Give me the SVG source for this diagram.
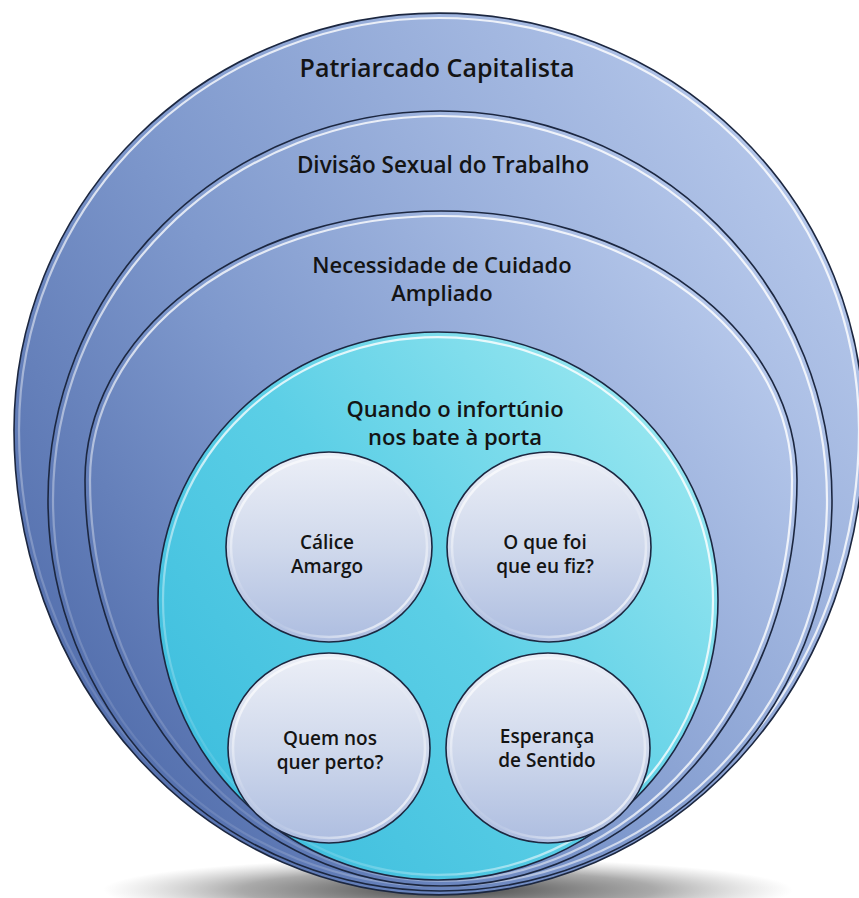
<svg xmlns="http://www.w3.org/2000/svg" width="859" height="898" viewBox="0 0 859 898">
<defs>
<linearGradient id="gBlue" x1="0" y1="0.85" x2="1" y2="0.15">
<stop offset="0" stop-color="#4b67a7"/>
<stop offset="0.45" stop-color="#7f99cd"/>
<stop offset="1" stop-color="#bccdee"/>
</linearGradient>
<linearGradient id="gCyan" x1="0" y1="0.9" x2="1" y2="0.1">
<stop offset="0" stop-color="#38bbdc"/>
<stop offset="0.5" stop-color="#5ccfe6"/>
<stop offset="1" stop-color="#a3ebf2"/>
</linearGradient>
<linearGradient id="gBall" x1="0" y1="0" x2="0" y2="1">
<stop offset="0" stop-color="#eceff7"/>
<stop offset="0.5" stop-color="#d0d9ec"/>
<stop offset="1" stop-color="#adbde0"/>
</linearGradient>
<linearGradient id="gHL" x1="1" y1="0" x2="0" y2="1">
<stop offset="0" stop-color="#ffffff" stop-opacity="0.85"/>
<stop offset="0.55" stop-color="#ffffff" stop-opacity="0.75"/>
<stop offset="0.9" stop-color="#ffffff" stop-opacity="0"/>
</linearGradient>
<linearGradient id="gHLb" x1="0" y1="0" x2="1" y2="1">
<stop offset="0" stop-color="#ffffff" stop-opacity="0.95"/>
<stop offset="0.4" stop-color="#ffffff" stop-opacity="0.1"/>
<stop offset="0.6" stop-color="#ffffff" stop-opacity="0.1"/>
<stop offset="1" stop-color="#ffffff" stop-opacity="0.95"/>
</linearGradient>
<radialGradient id="gShadow" cx="0.5" cy="0.5" r="0.5">
<stop offset="0" stop-color="#2e2e2e" stop-opacity="0.9"/>
<stop offset="0.6" stop-color="#555555" stop-opacity="0.5"/>
<stop offset="1" stop-color="#888888" stop-opacity="0"/>
</radialGradient>
</defs>
<style>
.band{fill:url(#gBlue);stroke:#1c2740;stroke-width:1.6}
.cyan{fill:url(#gCyan);stroke:#1c2740;stroke-width:1.6}
.ball{fill:url(#gBall);stroke:#1c2740;stroke-width:1.6}
.hl{fill:none;stroke:url(#gHL);stroke-width:2.2}
.hlb{fill:none;stroke:url(#gHLb);stroke-width:2.5}
text{font-family:"Open Sans","Liberation Sans",sans-serif;font-weight:600;fill:#141414;text-anchor:middle}
.t0{font-size:25px}
.t1{font-size:22.5px}
.t1b{font-size:22px}
.t2{font-size:22px}
.t3{font-size:19px}
</style>
<rect width="859" height="898" fill="#ffffff"/>
<ellipse cx="448" cy="890" rx="345" ry="32" fill="url(#gShadow)"/>
<g id="patriarcado">
<path class="band" d="M 14 430 A 425 417 0 0 1 864 430 A 425 465 0 0 1 14 430 Z"/>
<path class="hl" d="M 19 430 A 420 412 0 0 1 859 430 A 420 460 0 0 1 19 430 Z"/>
<text class="t0" x="437" y="77">Patriarcado Capitalista</text>
</g>
<g id="divisao">
<path class="band" d="M 48 500 A 392 389 0 0 1 832 500 A 392 391 0 0 1 48 500 Z"/>
<path class="hl" d="M 53 500 A 387 384 0 0 1 827 500 A 387 386 0 0 1 53 500 Z"/>
<text class="t1" x="443" y="173">Divisão Sexual do Trabalho</text>
</g>
<g id="necessidade">
<path class="band" d="M 85 480 A 356 269 0 0 1 797 480 A 356 406 0 0 1 85 480 Z"/>
<path class="hl" d="M 90 480 A 351 264 0 0 1 792 480 A 351 401 0 0 1 90 480 Z"/>
<text class="t1b" x="442" y="273">Necessidade de Cuidado</text>
<text class="t1b" x="442" y="301">Ampliado</text>
</g>
<g id="infortunio">
<path class="cyan" d="M 158 600 A 280 268 0 0 1 718 600 A 280 280 0 0 1 158 600 Z"/>
<path class="hl" d="M 163 600 A 275 263 0 0 1 713 600 A 275 275 0 0 1 163 600 Z"/>
<text class="t2" x="455" y="417">Quando o infortúnio</text>
<text class="t2" x="455" y="445">nos bate à porta</text>
</g>
<g id="calice">
<ellipse class="ball" cx="329" cy="547" rx="103" ry="95"/>
<ellipse class="hlb" cx="329" cy="547" rx="98" ry="90"/>
<text class="t3" x="327" y="549">Cálice</text>
<text class="t3" x="327" y="573">Amargo</text>
</g>
<g id="oquefoi">
<ellipse class="ball" cx="549" cy="547" rx="102" ry="95"/>
<ellipse class="hlb" cx="549" cy="547" rx="97" ry="90"/>
<text class="t3" x="545" y="549">O que foi</text>
<text class="t3" x="545" y="573">que eu fiz?</text>
</g>
<g id="quemnos">
<ellipse class="ball" cx="329" cy="748" rx="101" ry="95"/>
<ellipse class="hlb" cx="329" cy="748" rx="96" ry="90"/>
<text class="t3" x="330" y="745">Quem nos</text>
<text class="t3" x="330" y="769">quer perto?</text>
</g>
<g id="esperanca">
<ellipse class="ball" cx="548" cy="748" rx="102" ry="95"/>
<ellipse class="hlb" cx="548" cy="748" rx="97" ry="90"/>
<text class="t3" x="547" y="743">Esperança</text>
<text class="t3" x="547" y="767">de Sentido</text>
</g>
<g id="connectors"/>
</svg>
